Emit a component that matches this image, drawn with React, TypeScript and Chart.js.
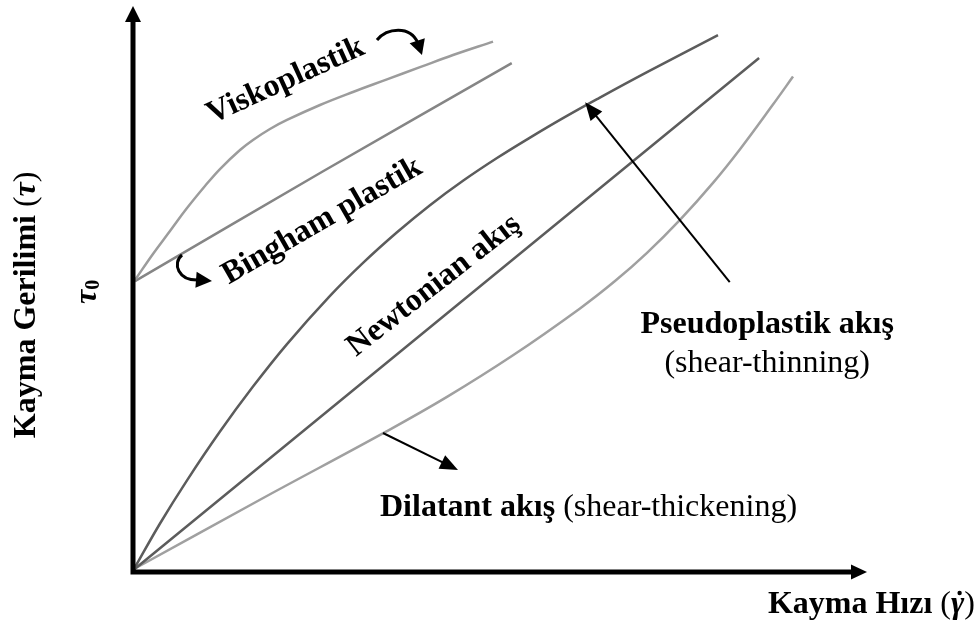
import React, { useEffect, useRef } from "react";
import { Chart, registerables } from "chart.js";

Chart.register(...registerables);

// ---- Curve data (x: shear rate, y: shear stress, arbitrary units 0..100) ----
const viscoX = [0.27, 2.72, 5.04, 7.36, 9.81, 11.85, 14.58, 16.35, 18.66, 20.98, 25.48, 29.97, 34.6, 39.1, 43.6, 49.05];
const viscoY = [51.6, 56.2, 60.25, 64.3, 68.2, 71.2, 74.56, 76.33, 78.27, 79.86, 82.51, 84.81, 87.03, 89.19, 91.34, 93.71];
const binghamX = [0.27, 25.9, 51.6];
const binghamY = [51.4, 70.8, 89.9];
const pseudoX = [0.14, 3.68, 7.36, 11.85, 16.35, 20.98, 26.84, 31.34, 35.97, 40.46, 44.96, 49.59, 54.09, 58.58, 63.22, 70.03, 79.7];
const pseudoY = [0.53, 8.57, 16.2, 24.82, 32.76, 40.27, 48.78, 54.61, 60.02, 64.81, 69.12, 73.14, 76.75, 80.19, 83.55, 88.32, 94.84];
const newtonX = [0.14, 85.3];
const newtonY = [0.45, 90.8];
const dilatantX = [0.14, 17.3, 34.6, 42.78, 51.77, 60.9, 65.67, 70.03, 74.52, 79.02, 82.7, 87.19, 89.92];
const dilatantY = [0.53, 12.77, 24.89, 30.94, 38.29, 46.57, 51.4, 56.38, 62.21, 68.75, 74.7, 82.58, 87.53];

const seriesNames = ["Viskoplastik", "Bingham plastik", "Pseudoplastik akış", "Newtonian akış", "Dilatant akış"];

// ---- Text labels ----
const yTitle = "Kayma Gerilimi ";
const xTitle = "Kayma Hızı ";
const tauZero = "τ";
const tauZeroSub = "0";
const labelVisko = "Viskoplastik";
const labelBingham = "Bingham plastik";
const labelNewton = "Newtonian akış";
const labelPseudo = "Pseudoplastik akış";
const labelPseudoSub = "(shear-thinning)";
const labelDilatant = "Dilatant akış ";
const labelDilatantSub = "(shear-thickening)";

const SERIF = '"Liberation Serif", "Times New Roman", serif';
const BOLD = `bold 32px ${SERIF}`;
const REG = `32px ${SERIF}`;
const BOLDIT = `bold italic 32px ${SERIF}`;

function zip(xs: number[], ys: number[]) {
  return xs.map((x, i) => ({ x, y: ys[i] }));
}

type Seg = { text: string; font: string; dy?: number };

function drawRich(ctx: CanvasRenderingContext2D, segs: Seg[], x: number, y: number, angle: number, align: "center" | "left", baseline: CanvasTextBaseline) {
  ctx.save();
  ctx.translate(x, y);
  ctx.rotate(angle);
  ctx.textBaseline = baseline;
  ctx.textAlign = "left";
  let total = 0;
  const widths = segs.map((s) => {
    ctx.font = s.font;
    const w = ctx.measureText(s.text).width;
    total += w;
    return w;
  });
  let cx = align === "center" ? -total / 2 : 0;
  segs.forEach((s, i) => {
    ctx.font = s.font;
    ctx.fillText(s.text, cx, s.dy || 0);
    cx += widths[i];
  });
  ctx.restore();
}

function arrowHead(ctx: CanvasRenderingContext2D, tx: number, ty: number, ang: number, len: number, half: number) {
  ctx.beginPath();
  ctx.moveTo(tx, ty);
  ctx.lineTo(tx - len * Math.cos(ang) + half * Math.sin(ang), ty - len * Math.sin(ang) - half * Math.cos(ang));
  ctx.lineTo(tx - len * Math.cos(ang) - half * Math.sin(ang), ty - len * Math.sin(ang) + half * Math.cos(ang));
  ctx.closePath();
  ctx.fill();
}

const decorPlugin = {
  id: "decor",
  afterDatasetsDraw(chart: any) {
    const ctx: CanvasRenderingContext2D = chart.ctx;
    const xs = chart.scales.x;
    const ys = chart.scales.y;
    const px = (v: number) => xs.getPixelForValue(v);
    const py = (v: number) => ys.getPixelForValue(v);
    const x0 = px(0), y0 = py(0), xMax = px(100), yMax = py(100);
    ctx.save();
    ctx.fillStyle = "#000";
    ctx.strokeStyle = "#000";
    // axes
    ctx.lineWidth = 5;
    ctx.lineCap = "butt";
    ctx.beginPath();
    ctx.moveTo(x0, yMax + 12);
    ctx.lineTo(x0, y0);
    ctx.lineTo(xMax - 12, y0);
    ctx.stroke();
    arrowHead(ctx, x0, yMax, -Math.PI / 2, 16, 8);
    arrowHead(ctx, xMax, y0, 0, 16, 7.5);

    // straight pointer arrows
    ctx.lineWidth = 2;
    const pointer = (ax: number, ay: number, bx: number, by: number) => {
      const sx = px(ax), sy = py(ay), ex = px(bx), ey = py(by);
      const ang = Math.atan2(ey - sy, ex - sx);
      ctx.beginPath();
      ctx.moveTo(sx, sy);
      ctx.lineTo(ex - 12 * Math.cos(ang), ey - 12 * Math.sin(ang));
      ctx.stroke();
      arrowHead(ctx, ex, ey, ang, 18, 7.5);
    };
    pointer(81.3, 51.2, 61.6, 83.0);
    pointer(34.06, 24.56, 44.28, 18.02);

    // curved arrows
    ctx.lineWidth = 3;
    {
      const sx = px(33.24), sy = py(94.0);
      const tx = px(39.37), ty = py(91.34);
      ctx.beginPath();
      ctx.moveTo(sx, sy);
      ctx.bezierCurveTo(sx + 10, sy - 12, tx - 12, ty - 30, tx - 4, ty - 12);
      ctx.stroke();
      arrowHead(ctx, tx, ty, Math.atan2(12, 4), 15, 8);
    }
    {
      const sx = px(6.68), sy = py(56.0);
      const tx = px(10.76), ty = py(51.4);
      ctx.beginPath();
      ctx.moveTo(sx, sy);
      ctx.bezierCurveTo(sx - 10, sy + 8, sx - 4, ty, tx - 13, ty - 1);
      ctx.stroke();
      arrowHead(ctx, tx, ty, Math.atan2(1, 13), 16, 8);
    }

    // curve labels
    drawRich(ctx, [{ text: labelVisko, font: BOLD }], px(20.8), py(86.75), (-24.5 * Math.PI) / 180, "center", "middle");
    drawRich(ctx, [{ text: labelBingham, font: BOLD }], px(25.75), py(62.0), (-30 * Math.PI) / 180, "center", "middle");
    drawRich(ctx, [{ text: labelNewton, font: BOLD }], px(41.0), py(50.6), (-38 * Math.PI) / 180, "center", "middle");
    drawRich(ctx, [{ text: labelPseudo, font: BOLD }], px(86.4), py(42.2), 0, "center", "alphabetic");
    drawRich(ctx, [{ text: labelPseudoSub, font: REG }], px(86.4), py(35.3), 0, "center", "alphabetic");
    drawRich(ctx, [{ text: labelDilatant, font: BOLD }, { text: labelDilatantSub, font: REG }], px(33.65), py(9.9), 0, "left", "alphabetic");

    // tau0
    drawRich(
      ctx,
      [
        { text: tauZero, font: BOLDIT },
        { text: tauZeroSub, font: `bold 20px ${SERIF}`, dy: 6 },
      ],
      px(-6.13),
      py(49.5),
      -Math.PI / 2,
      "center",
      "middle"
    );
    // y title
    drawRich(
      ctx,
      [
        { text: yTitle, font: BOLD },
        { text: "(", font: REG },
        { text: "τ", font: BOLDIT },
        { text: ")", font: REG },
      ],
      px(-14.44),
      py(47.2),
      -Math.PI / 2,
      "center",
      "middle"
    );
    // x title
    {
      const segs: Seg[] = [
        { text: xTitle, font: BOLD },
        { text: "(", font: REG },
        { text: "γ", font: BOLDIT },
        { text: ")", font: REG },
      ];
      const cx = px(100.6), by = py(-7.24);
      drawRich(ctx, segs, cx, by, 0, "center", "alphabetic");
      let total = 0;
      const ws = segs.map((s) => {
        ctx.font = s.font;
        const w = ctx.measureText(s.text).width;
        total += w;
        return w;
      });
      const gx = cx - total / 2 + ws[0] + ws[1] + ws[2] / 2 + 2;
      ctx.beginPath();
      ctx.arc(gx, by - 20, 2.2, 0, Math.PI * 2);
      ctx.fill();
    }
    ctx.restore();
  },
};

export default function App() {
  const ref = useRef<HTMLCanvasElement | null>(null);
  useEffect(() => {
    if (!ref.current) return;
    const common = {
      pointRadius: 0,
      borderWidth: 2.5,
      fill: false,
      clip: false as any,
      tension: 0.4,
    };
    const chart = new Chart(ref.current, {
      type: "line",
      data: {
        datasets: [
          { label: seriesNames[0], data: zip(viscoX, viscoY), borderColor: "#9c9c9c", ...common },
          { label: seriesNames[1], data: zip(binghamX, binghamY), borderColor: "#858585", ...common },
          { label: seriesNames[2], data: zip(pseudoX, pseudoY), borderColor: "#5c5c5c", ...common },
          { label: seriesNames[3], data: zip(newtonX, newtonY), borderColor: "#5c5c5c", ...common },
          { label: seriesNames[4], data: zip(dilatantX, dilatantY), borderColor: "#a0a0a0", ...common },
        ],
      },
      options: {
        responsive: false,
        animation: false,
        layout: { padding: { left: 133, right: 113, top: 6, bottom: 62 } },
        scales: {
          x: { type: "linear", min: 0, max: 100, display: false },
          y: { type: "linear", min: 0, max: 100, display: false },
        },
        plugins: { legend: { display: false }, tooltip: { enabled: false } },
      },
      plugins: [decorPlugin],
    });
    return () => chart.destroy();
  }, []);
  return (
    <div style={{ position: "fixed", left: 0, top: 0, width: 980, height: 634, background: "#fff" }}>
      <canvas ref={ref} width={980} height={634} style={{ display: "block" }} />
    </div>
  );
}
